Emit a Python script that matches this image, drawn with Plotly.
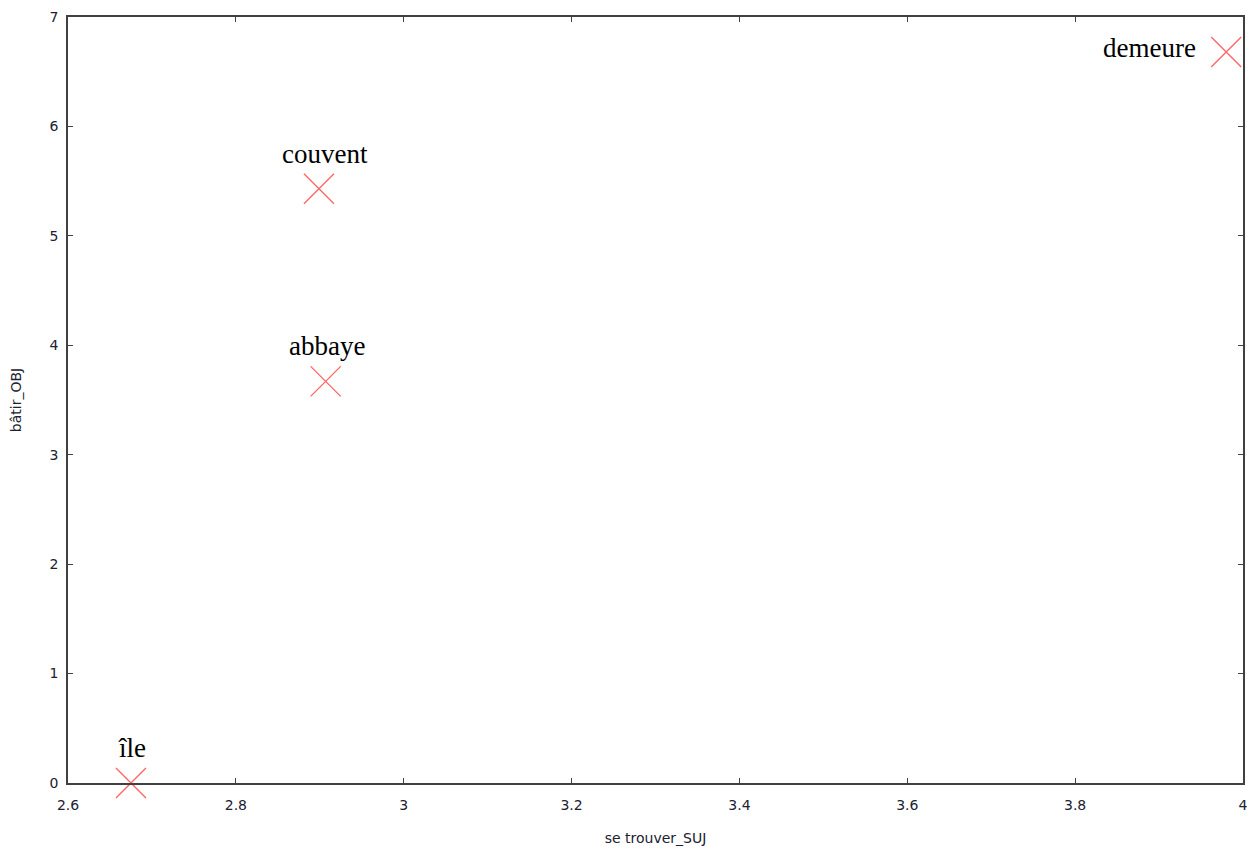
import plotly.graph_objects as go

words = ["île", "couvent", "abbaye", "demeure"]
x_vals = [2.675, 2.899, 2.907, 3.98]
y_vals = [0.0, 5.43, 3.67, 6.68]
x_ticks = [2.6, 2.8, 3.0, 3.2, 3.4, 3.6, 3.8, 4.0]
x_tick_labels = ["2.6", "2.8", "3", "3.2", "3.4", "3.6", "3.8", "4"]
y_ticks = [0, 1, 2, 3, 4, 5, 6, 7]

MARK = "#ff6464"
fig = go.Figure()
fig.add_trace(go.Scatter(
    x=x_vals, y=y_vals, mode="markers",
    marker=dict(symbol="x-thin-open", size=30, color=MARK,
                line=dict(width=1.3, color=MARK)),
    cliponaxis=False, showlegend=False, hoverinfo="skip",
))

label_font = dict(family="Liberation Serif", size=27, color="black")
for w, xv, yv in zip(words, x_vals, y_vals):
    if w == "demeure":
        fig.add_annotation(x=xv, y=yv, text=w, showarrow=False,
                           xanchor="right", yanchor="middle", xshift=-28, yshift=4,
                           font=label_font)
    else:
        fig.add_annotation(x=xv, y=yv, text=w, showarrow=False,
                           xanchor="center", yanchor="middle", yshift=35,
                           xshift=6 if w == "couvent" else 1,
                           font=label_font)

TXT = "#202030"
axis_common = dict(
    showgrid=False, zeroline=False, showline=True, mirror="ticks",
    linecolor="#404040", linewidth=1.5, ticks="inside", ticklen=5,
    tickcolor="#404040", tickwidth=1, automargin=False,
    tickfont=dict(family="DejaVu Sans", size=14, color=TXT),
)

fig.update_layout(
    width=1251, height=850,
    margin=dict(l=68, r=8, t=17, b=67),
    plot_bgcolor="white", paper_bgcolor="white",
    xaxis=dict(range=[2.6, 4.0], tickvals=x_ticks, ticktext=x_tick_labels,
               ticklabelstandoff=8,
               title=dict(text="se trouver_SUJ", standoff=22,
                          font=dict(family="DejaVu Sans", size=14, color=TXT)),
               **axis_common),
    yaxis=dict(range=[0, 7], tickvals=y_ticks, ticklabelstandoff=5,
               title=dict(text="bâtir_OBJ", standoff=25,
                          font=dict(family="DejaVu Sans", size=14, color=TXT)),
               **axis_common),
)

fig.write_html(
    "out.html",
    config={"displayModeBar": False},
    post_script="document.body.style.margin='0';document.body.style.overflow='hidden';",
)
